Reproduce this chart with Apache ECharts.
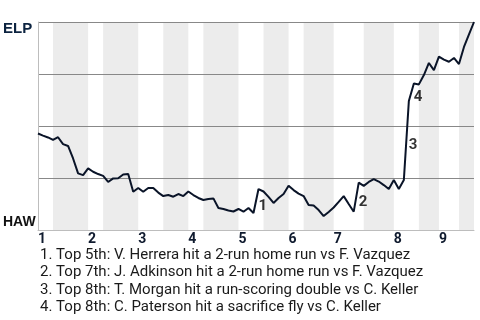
<!DOCTYPE html>
<html><head><meta charset="utf-8">
<script src="https://cdn.jsdelivr.net/npm/echarts@6/dist/echarts.min.js"></script>
<style>html,body{margin:0;padding:0;background:#fff}#c{width:480px;height:320px}</style>
</head><body><div id="c"></div>
<script>
// ELP win probability (%) after each plate appearance
const winProb = [
  46.4, 45.4, 44.5, 43.3, 44.6, 41.3, 40.4, 34.4, 27.2, 26.4,
  29.6, 28.0, 26.9, 26.0, 23.1, 24.8, 24.9, 26.7, 26.9, 18.4,
  20.2, 18.4, 20.2, 20.2, 18.0, 16.3, 16.8, 16.0, 17.3, 16.3,
  18.5, 16.8, 15.4, 14.4, 14.9, 15.2, 10.6, 10.1, 9.4, 8.9,
  10.1, 8.8, 10.6, 8.2, 19.7, 18.5, 15.9, 13.0, 15.4, 17.3,
  21.3, 19.2, 17.5, 16.3, 12.0, 11.8, 9.6, 6.7, 8.7, 10.8,
  13.5, 16.3, 12.5, 8.8, 22.8, 21.2, 23.1, 24.5, 23.3, 21.6,
  19.7, 24.0, 19.7, 24.0, 62.0, 70.4, 70.0, 74.5, 80.3, 76.9,
  83.4, 81.9, 80.9, 82.7, 79.8, 88.0, 94.0, 100
];
// plate-appearance index where each half inning starts (top 1st, bottom 1st, ...)
const halfInningStarts = [0, 3, 10, 13, 20, 25, 30, 33, 40, 45, 50, 53, 59, 65, 71, 76, 80, 84];
const gameEnd = 87;
const inningLabels = ['1', '2', '3', '4', '5', '6', '7', '8', '9'];
const teamTop = 'ELP';
const teamBottom = 'HAW';
const eventIdx = [44, 64, 74, 75];
const eventText = [
  'Top 5th: V. Herrera hit a 2-run home run vs F. Vazquez',
  'Top 7th: J. Adkinson hit a 2-run home run vs F. Vazquez',
  'Top 8th: T. Morgan hit a run-scoring double vs C. Keller',
  'Top 8th: C. Paterson hit a sacrifice fly vs C. Keller'
];

const lineData = winProb.map((v, i) => [i, v]);
const inningStarts = halfInningStarts.filter((_, k) => k % 2 === 0);
const bands = [];
for (let k = 1; k < halfInningStarts.length; k += 2) {
  const a = halfInningStarts[k];
  const b = k + 1 < halfInningStarts.length ? halfInningStarts[k + 1] : gameEnd;
  bands.push([{ xAxis: a }, { xAxis: b }]);
}
const eventPts = eventIdx.map((ix, k) => ({
  value: [ix, (winProb[ix - 1] + winProb[ix]) / 2],
  name: String(k + 1)
}));
const legendText = eventText.map((t, k) => (k + 1) + '. ' + t).join('\n');

const chart = echarts.init(document.getElementById('c'), null, { renderer: 'canvas' });
chart.setOption({
  animation: false,
  textStyle: { fontFamily: 'Roboto' },
  grid: { left: 38, right: 6, top: 22, bottom: 90 },
  title: {
    text: legendText,
    left: 35, top: 241,
    textStyle: { fontFamily: 'Roboto', fontSize: 15, fontWeight: 'normal', color: '#1a1a1a', lineHeight: 17.6 }
  },
  xAxis: {
    type: 'value', min: 0, max: gameEnd, z: 3,
    axisLine: { show: true, lineStyle: { color: '#bdbdbd', width: 1 } },
    axisTick: { show: false },
    splitLine: { show: false },
    axisLabel: {
      customValues: inningStarts,
      formatter: v => inningLabels[inningStarts.indexOf(v)] || '',
      align: 'left', margin: 2,
      fontFamily: 'Roboto', fontWeight: 'bold', fontSize: 14, color: '#0f1a2e'
    }
  },
  yAxis: {
    type: 'value', min: 0, max: 100, interval: 25, z: 3,
    axisLine: { show: true, lineStyle: { color: '#bdbdbd', width: 1 } },
    axisTick: { show: false },
    splitLine: { show: true, lineStyle: { color: ['rgba(0,0,0,0)', '#888', '#888', '#888', '#888'], width: 1 } },
    axisLabel: {
      align: 'left', margin: 35,
      formatter: v => v === 100 ? '{top|' + teamTop + '}' : (v === 0 ? '{bot|' + teamBottom + '}' : ''),
      rich: {
        top: { fontFamily: 'Liberation Sans', fontWeight: 'bold', fontSize: 15, color: '#0c2340', padding: [13, 0, 0, 0] },
        bot: { fontFamily: 'Liberation Sans', fontWeight: 'bold', fontSize: 14, color: '#111', padding: [0, 0, 15, 0] }
      }
    }
  },
  series: [
    {
      type: 'line', data: [], z: 1, silent: true,
      markArea: { silent: true, itemStyle: { color: '#ececec' }, data: bands }
    },
    {
      type: 'line', data: lineData, z: 5, symbol: 'none', smooth: false,
      lineStyle: { color: '#0a1428', width: 2 }
    },
    {
      type: 'scatter', data: eventPts, z: 6, symbolSize: 0,
      label: {
        show: true, position: 'right', distance: 0, offset: [0, 5],
        formatter: p => p.name,
        fontFamily: 'Roboto', fontWeight: 'bold', fontSize: 15, color: '#000'
      }
    }
  ]
});
</script>
</body></html>
